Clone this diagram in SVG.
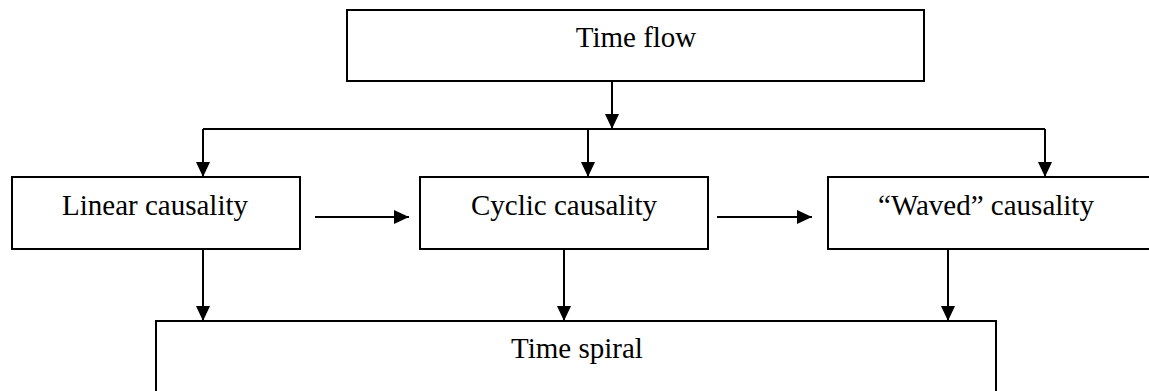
<svg xmlns="http://www.w3.org/2000/svg" width="1149" height="391" viewBox="0 0 1149 391">
<style>
.box{fill:#fff;stroke:#000;stroke-width:2}
.lbl{font-family:"Liberation Serif","Times New Roman",serif;font-size:29px;fill:#000;text-anchor:middle}
.ln{fill:none;stroke:#000;stroke-width:2}
.ar{fill:none;stroke:#000;stroke-width:2;marker-end:url(#ah)}
</style>
<defs>
<marker id="ah" markerUnits="userSpaceOnUse" markerWidth="15" markerHeight="14" refX="15" refY="7" orient="auto">
<path d="M0,0 L15,7 L0,14 z" fill="#000"/>
</marker>
</defs>
<rect width="1149" height="391" fill="#fff"/>
<g id="connectors">
<line class="ar" x1="612" y1="81" x2="612" y2="129"/>
<line class="ln" x1="203" y1="129" x2="1045" y2="129"/>
<line class="ar" x1="203" y1="129" x2="203" y2="177"/>
<line class="ar" x1="588" y1="129" x2="588" y2="177"/>
<line class="ar" x1="1045" y1="129" x2="1045" y2="177"/>
<line class="ar" x1="315" y1="217" x2="409" y2="217"/>
<line class="ar" x1="717" y1="217" x2="812" y2="217"/>
<line class="ar" x1="203" y1="249" x2="203" y2="321"/>
<line class="ar" x1="564" y1="249" x2="564" y2="321"/>
<line class="ar" x1="948" y1="249" x2="948" y2="321"/>
</g>
<g id="time-flow">
<rect class="box" x="347" y="10" width="577" height="71"/>
<text class="lbl" x="636" y="47">Time flow</text>
</g>
<g id="linear-causality">
<rect class="box" x="12" y="177" width="288" height="72"/>
<text class="lbl" x="155" y="215">Linear causality</text>
</g>
<g id="cyclic-causality">
<rect class="box" x="420" y="177" width="288" height="72"/>
<text class="lbl" x="564" y="215">Cyclic causality</text>
</g>
<g id="waved-causality">
<rect class="box" x="828" y="177" width="330" height="72"/>
<text class="lbl" x="986" y="215">“Waved” causality</text>
</g>
<g id="time-spiral">
<rect class="box" x="156" y="321" width="840" height="80"/>
<text class="lbl" x="577" y="358">Time spiral</text>
</g>
</svg>
